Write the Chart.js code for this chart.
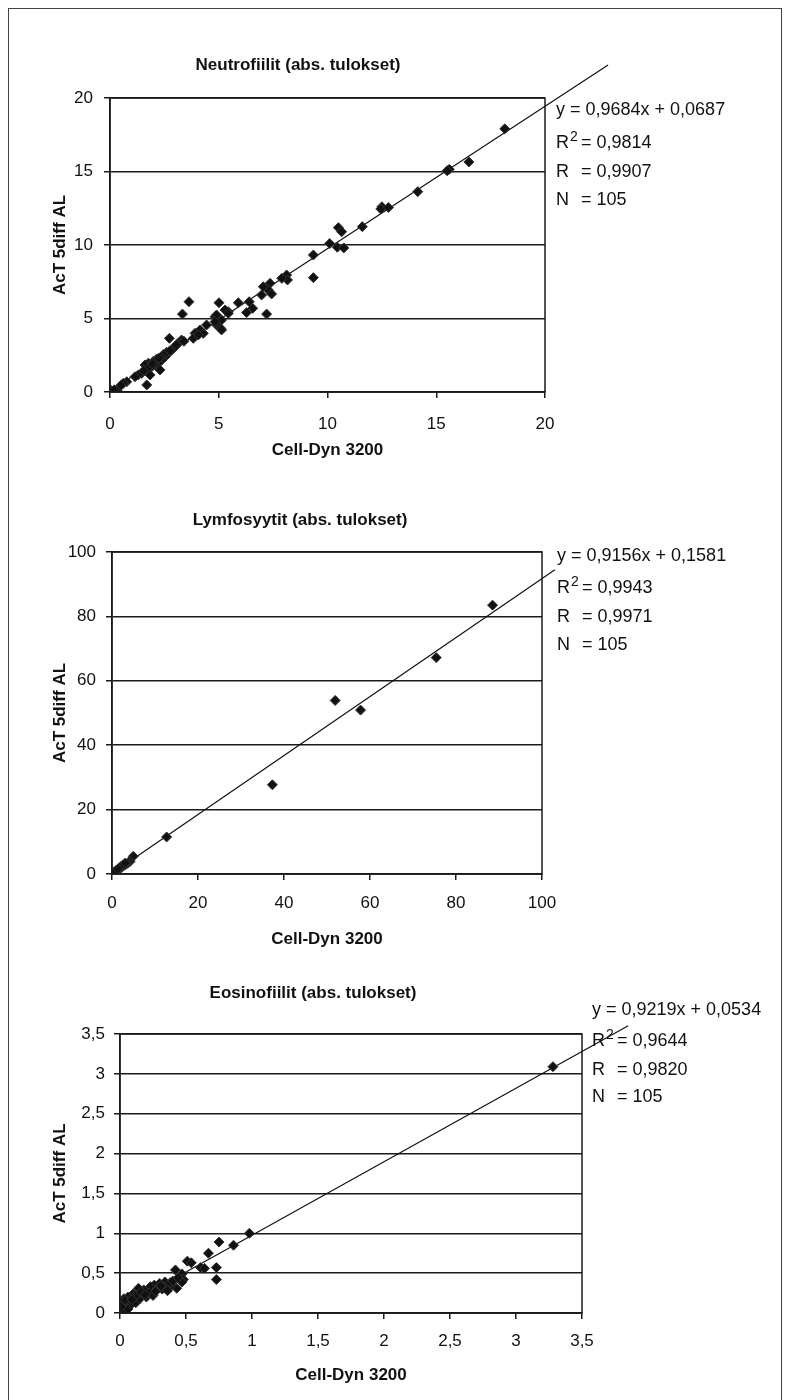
<!DOCTYPE html>
<html>
<head>
<meta charset="utf-8">
<title>Cell-Dyn 3200 / AcT 5diff AL</title>
<script src="https://cdn.jsdelivr.net/npm/chart.js@4.4.1/dist/chart.umd.min.js"></script>
<style>
  body { margin: 0; background: #fff; }
  #page { position: relative; width: 789px; height: 1400px; overflow: hidden; }
  #frame { position: absolute; left: 8px; top: 8px; width: 774px; height: 1400px;
           border: 1px solid #444; box-sizing: border-box; }
  canvas { position: absolute; left: 0; }
</style>
</head>
<body>
<div id="page">
  <div id="frame"></div>
  <canvas id="chartNeutro" width="789" height="470" style="top:0px"></canvas>
  <canvas id="chartLymfo" width="789" height="490" style="top:470px"></canvas>
  <canvas id="chartEosino" width="789" height="440" style="top:960px"></canvas>
</div>
<script>
"use strict";

// ---- data ----
var xTitle = "Cell-Dyn 3200";
var yTitle = "AcT 5diff AL";

var neutroTitle = "Neutrofiilit (abs. tulokset)";
var neutroTicks = [0, 5, 10, 15, 20];
var neutroX = [18.15, 16.5, 15.6, 15.5, 14.15, 12.5, 12.45, 12.8, 11.6, 10.5, 10.65, 10.1, 10.45, 10.75,
  9.35, 9.35, 8.12, 8.16, 7.9, 7.36, 7.28, 7.05, 7.43, 6.97, 7.2, 6.4, 6.56, 6.28, 5.9, 5.01,
  5.44, 5.29, 4.83, 5.13, 4.9, 5.09, 4.9, 5.44, 4.83, 5.13, 4.44, 4.14, 3.91, 3.83, 4.29, 4.06,
  3.63, 3.33, 2.73, 3.29, 3.14, 2.99, 2.84, 2.68, 2.53, 2.38, 2.22, 2.07, 1.92, 1.76, 1.61, 1.69,
  1.46, 1.3, 1.15, 2.3, 1.84, 1.69, 0.77, 0.61, 0.05, 0.35, 0.1, 2.0, 2.15, 2.45, 1.8, 2.6, 2.9,
  3.05, 1.55, 2.25, 1.95, 2.75, 3.4, 0.2, 0.5];
var neutroY = [17.9, 15.65, 15.15, 15.05, 13.63, 12.6, 12.45, 12.55, 11.25, 11.18, 10.9, 10.1, 9.85, 9.8,
  9.32, 7.78, 7.96, 7.62, 7.73, 7.39, 6.94, 7.16, 6.67, 6.6, 5.3, 6.14, 5.69, 5.4, 6.07, 6.07,
  5.46, 5.58, 5.12, 4.9, 4.56, 4.33, 5.24, 5.35, 4.78, 4.22, 4.56, 4.22, 3.99, 3.65, 3.99, 3.88,
  6.14, 5.3, 3.65, 3.54, 3.31, 3.08, 2.86, 2.63, 2.4, 2.18, 1.95, 1.84, 1.72, 1.95, 1.84, 1.5,
  1.27, 1.16, 1.04, 1.5, 1.16, 0.48, 0.7, 0.59, 0.1, 0.05, 0.0, 2.1, 2.25, 2.55, 1.7, 2.7, 2.95,
  3.2, 1.45, 2.3, 1.9, 2.8, 3.45, 0.15, 0.45];
var neutroFit = { slope: 0.9684, intercept: 0.0687, r2: 0.9814, r: 0.9907, n: 105, xEnd: 22.9 };

var lymfoTitle = "Lymfosyytit (abs. tulokset)";
var lymfoTicks = [0, 20, 40, 60, 80, 100];
var lymfoX = [88.5, 75.4, 51.9, 57.8, 37.3, 12.7, 4.96, 4.2, 3.9, 3.6, 3.3, 3.0, 2.7, 2.4, 2.1, 1.8,
  1.5, 1.2, 0.9, 0.6, 0.3, 0.0, 1.0, 2.0, 2.6, 3.1, 0.4, 1.4];
var lymfoY = [83.5, 67.2, 53.9, 50.9, 27.7, 11.5, 5.5, 3.9, 3.7, 3.3, 3.1, 2.8, 2.6, 2.2, 1.9, 1.7,
  1.4, 1.1, 0.8, 0.5, 0.2, 0.0, 1.2, 2.3, 2.9, 3.4, 0.6, 1.6];
var lymfoFit = { slope: 0.9156, intercept: 0.1581, r2: 0.9943, r: 0.9971, n: 105, xEnd: 103 };

var eosinoTitle = "Eosinofiilit (abs. tulokset)";
var eosinoTicks = [0, 0.5, 1, 1.5, 2, 2.5, 3, 3.5];
var eosinoX = [3.28, 0.98, 0.86, 0.75, 0.67, 0.73, 0.73, 0.51, 0.54, 0.61, 0.64, 0.42, 0.47, 0.48,
  0.43, 0.39, 0.47, 0.34, 0.30, 0.26, 0.23, 0.18, 0.14, 0.10, 0.06, 0.03, 0.0, 0.0, 0.0, 0.0,
  0.02, 0.05, 0.08, 0.12, 0.15, 0.2, 0.22, 0.25, 0.28, 0.32, 0.35, 0.38, 0.12, 0.16, 0.02, 0.04,
  0.27, 0.31, 0.09, 0.19, 0.06, 0.01, 0.36, 0.4, 0.44];
var eosinoY = [3.09, 1.0, 0.85, 0.89, 0.75, 0.57, 0.42, 0.65, 0.63, 0.57, 0.56, 0.54, 0.49, 0.42,
  0.31, 0.35, 0.39, 0.39, 0.37, 0.35, 0.33, 0.29, 0.31, 0.24, 0.20, 0.18, 0.14, 0.10, 0.05, 0.0,
  0.02, 0.08, 0.10, 0.13, 0.18, 0.2, 0.25, 0.22, 0.3, 0.3, 0.32, 0.38, 0.22, 0.26, 0.12, 0.16,
  0.27, 0.34, 0.17, 0.23, 0.05, 0.08, 0.28, 0.4, 0.44];
var eosinoFit = { slope: 0.9219, intercept: 0.0534, r2: 0.9644, r: 0.9820, n: 105, xEnd: 3.85 };

// ---- helpers ----
var FONT = "'Liberation Sans', Arial, Helvetica, sans-serif";
var INK = "#1a1a1a";

function comma(v, digits) {
  var s = digits === undefined ? String(v) : v.toFixed(digits);
  return s.replace(".", ",");
}

function toPoints(xs, ys) {
  return xs.map(function(x, i) { return { x: x, y: ys[i] }; });
}

// plot frame (top + right edges of the box)
var frameBox = {
  id: "frameBox",
  afterDraw: function(chart) {
    var a = chart.chartArea, ctx = chart.ctx;
    ctx.save();
    ctx.strokeStyle = INK;
    ctx.lineWidth = 1.5;
    ctx.strokeRect(a.left, a.top, a.right - a.left, a.bottom - a.top);
    ctx.restore();
  }
};

// chart heading + regression text box
var textBox = {
  id: "textBox",
  afterDraw: function(chart, args, opts) {
    var ctx = chart.ctx;
    ctx.save();
    ctx.fillStyle = "#111";
    ctx.textBaseline = "middle";

    ctx.font = "bold 17px " + FONT;
    ctx.textAlign = "center";
    ctx.fillText(opts.title, opts.titleX, opts.titleY);

    ctx.textAlign = "left";
    var f = opts.fit, x = opts.statX, ys = opts.statY, eq = x + 25;
    var normal = "18px " + FONT;
    ctx.font = normal;
    ctx.fillText("y = " + comma(f.slope, 4) + "x + " + comma(f.intercept, 4), x, ys[0]);

    ctx.fillText("R", x, ys[1]);
    var w = ctx.measureText("R").width;
    ctx.font = "14px " + FONT;
    ctx.fillText("2", x + w + 1, ys[1] - 6);
    ctx.font = normal;
    ctx.fillText("= " + comma(f.r2, 4), eq, ys[1]);

    ctx.fillText("R", x, ys[2]);
    ctx.fillText("= " + comma(f.r, 4), eq, ys[2]);
    ctx.fillText("N", x, ys[3]);
    ctx.fillText("= " + f.n, eq, ys[3]);
    ctx.restore();
  }
};

function makeChart(id, title, xs, ys, fit, ticks, box) {
  var canvas = document.getElementById(id);
  var H = canvas.height;
  var tickOpts = {
    font: { family: FONT, size: 17 },
    color: "#111",
    callback: function(v) { return comma(v); }
  };
  return new Chart(canvas, {
    type: "scatter",
    data: {
      datasets: [
        {
          label: "data",
          data: toPoints(xs, ys),
          pointStyle: "rectRot",
          pointRadius: 5,
          pointHoverRadius: 5,
          backgroundColor: "#111",
          borderColor: "#333",
          borderWidth: 1
        },
        {
          label: "trend",
          type: "line",
          data: [
            { x: 0, y: fit.intercept },
            { x: fit.xEnd, y: fit.slope * fit.xEnd + fit.intercept }
          ],
          borderColor: "#111",
          borderWidth: 1.2,
          pointRadius: 0,
          fill: false,
          clip: false
        }
      ]
    },
    options: {
      responsive: false,
      animation: false,
      events: [],
      layout: { padding: { left: 0, top: box.top, right: canvas.width - box.right, bottom: 0 } },
      plugins: {
        legend: { display: false },
        tooltip: { enabled: false },
        textBox: {
          title: title, titleX: box.titleX, titleY: box.titleY,
          fit: fit, statX: box.statX, statY: box.statY
        }
      },
      scales: {
        x: {
          type: "linear",
          min: ticks[0],
          max: ticks[ticks.length - 1],
          afterBuildTicks: function(scale) {
            scale.ticks = ticks.map(function(v) { return { value: v }; });
          },
          afterFit: function(scale) { scale.height = H - box.bottom; },
          grid: { drawOnChartArea: false, drawTicks: true, tickLength: 6, color: INK, lineWidth: 1.5 },
          border: { display: true, color: INK, width: 1.5 },
          ticks: Object.assign({ padding: box.xPad, maxRotation: 0, autoSkip: false }, tickOpts),
          title: {
            display: true, text: xTitle, color: "#111",
            font: { family: FONT, size: 17, weight: "bold" },
            padding: { top: 0, bottom: box.xTitlePad }
          }
        },
        y: {
          type: "linear",
          min: ticks[0],
          max: ticks[ticks.length - 1],
          afterBuildTicks: function(scale) {
            scale.ticks = ticks.map(function(v) { return { value: v }; });
          },
          afterFit: function(scale) { scale.width = box.left; },
          grid: { drawTicks: true, tickLength: 6, color: INK, lineWidth: 1.5 },
          border: { display: true, color: INK, width: 1.5 },
          ticks: Object.assign({ padding: box.yPad, autoSkip: false }, tickOpts),
          title: {
            display: true, text: yTitle, color: "#111",
            font: { family: FONT, size: 17, weight: "bold" },
            padding: { top: box.yTitlePad, bottom: 0 }
          }
        }
      }
    },
    plugins: [frameBox, textBox]
  });
}

makeChart("chartNeutro", neutroTitle, neutroX, neutroY, neutroFit, neutroTicks, {
  left: 110, right: 545, top: 98, bottom: 392,
  xPad: 16, yPad: 11, xTitlePad: 9, yTitlePad: 50,
  titleX: 298, titleY: 65, statX: 556, statY: [110, 143, 172, 200]
});

makeChart("chartLymfo", lymfoTitle, lymfoX, lymfoY, lymfoFit, lymfoTicks, {
  left: 112, right: 542, top: 82, bottom: 404,
  xPad: 13, yPad: 10, xTitlePad: 10, yTitlePad: 50,
  titleX: 300, titleY: 50, statX: 557, statY: [86, 118, 147, 175]
});

makeChart("chartEosino", eosinoTitle, eosinoX, eosinoY, eosinoFit, eosinoTicks, {
  left: 120, right: 582, top: 74, bottom: 353,
  xPad: 12, yPad: 9, xTitlePad: 14, yTitlePad: 50,
  titleX: 313, titleY: 33, statX: 592, statY: [50, 81, 110, 137]
});
</script>
</body>
</html>
